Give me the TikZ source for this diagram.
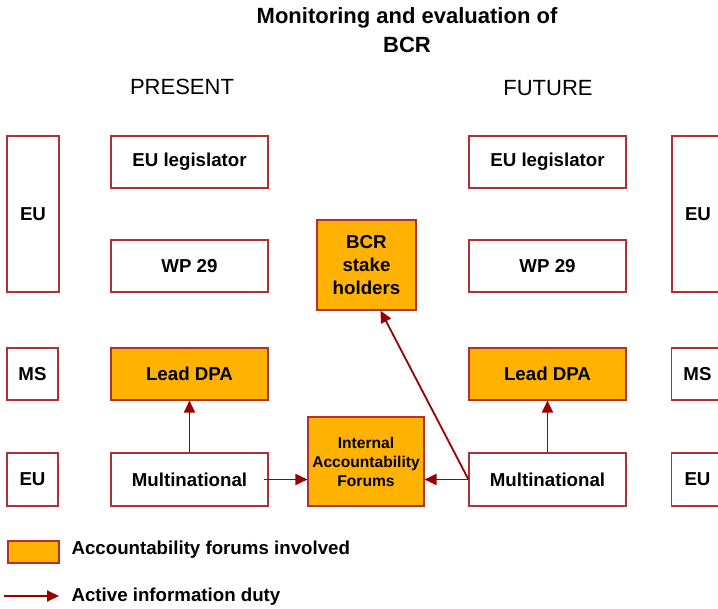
\documentclass[tikz,border=0pt]{standalone}
\usepackage{fontspec}
\setmainfont{Liberation Sans}
\usetikzlibrary{arrows.meta}
\definecolor{boxred}{RGB}{176,48,52}
\definecolor{duty}{RGB}{153,0,0}
\definecolor{forum}{RGB}{255,178,0}
\tikzset{
	box/.style={draw=boxred, line width=1.1pt, fill=white, inner sep=0pt, font=\fontsize{18.7}{22}\selectfont\bfseries, align=center},
	forumbox/.style={box, fill=forum},
	infoduty/.style={draw=duty, line width=1.8pt, -{Triangle[length=12pt,width=11pt]}},
}

\begin{document}
\begin{tikzpicture}[x=1pt, y=-1pt]
			%%%%% START %%%%%
			
			\useasboundingbox (0, 0) rectangle (718, 609);
			\clip (0, 0) rectangle (718, 609);
			
			\node[font=\fontsize{22}{26}\selectfont\bfseries] (title1) at (407, 18) {Monitoring and evaluation of};
			\node[font=\fontsize{22}{26}\selectfont\bfseries] (title2) at (407, 45) {BCR};
			
			\node[font=\fontsize{22}{26}\selectfont] (present) at (182, 87) {PRESENT};
			\node[font=\fontsize{22}{26}\selectfont] (future) at (548, 88) {FUTURE};
			
			% present
			\node[box, minimum width=52, minimum height=156] (eu1) at (33, 214) {EU};
			\node[box, minimum width=51, minimum height=52] (ms1) at (32.5, 374) {MS};
			\node[box, minimum width=51, minimum height=53] (eu2) at (32.5, 479.5) {EU};
			
			\node[box, minimum width=157, minimum height=52] (leg1) at (189.5, 162) {EU legislator};
			\node[box, minimum width=157, minimum height=52] (wp1) at (189.5, 266) {WP 29};
			\node[forumbox, minimum width=157, minimum height=52] (dpa1) at (189.5, 374) {Lead DPA};
			\node[box, minimum width=157, minimum height=53] (mnc1) at (189.5, 479.5) {Multinational};
			
			% middle
			\node[forumbox, minimum width=99, minimum height=90] (stake) at (366.5, 265) {BCR\\[1pt]stake\\[1pt]holders};
			\node[forumbox, minimum width=116, minimum height=89, font=\fontsize{15.6}{19}\selectfont\bfseries] (forums) at (366, 461.5) {Internal\\Accountability\\Forums};
			
			% future
			\node[box, minimum width=157, minimum height=52] (leg2) at (547.5, 162) {EU legislator};
			\node[box, minimum width=157, minimum height=52] (wp2) at (547.5, 266) {WP 29};
			\node[forumbox, minimum width=157, minimum height=52] (dpa2) at (547.5, 374) {Lead DPA};
			\node[box, minimum width=157, minimum height=53] (mnc2) at (547.5, 479.5) {Multinational};
			
			\node[box, minimum width=52, minimum height=156] (eu3) at (698, 214) {EU};
			\node[box, minimum width=52, minimum height=52] (ms2) at (697.5, 374) {MS};
			\node[box, minimum width=52, minimum height=53] (eu4) at (697.5, 479.5) {EU};
			
			% information duties
			\draw[infoduty] (mnc1.north) -- (dpa1.south);
			\draw[infoduty] (mnc2.north) -- (dpa2.south);
			\draw[infoduty] ([xshift=-5]mnc1.east) -- (mnc1.east -| forums.west);
			\draw[infoduty] (mnc2.west) -- (mnc2.west -| forums.east);
			\draw[infoduty] (mnc2.west) -- ([xshift=14]stake.south);
			
			% legend
			\node[forumbox, minimum width=51, minimum height=22] (keyforum) at (33.5, 552) {};
			\node[anchor=west, font=\fontsize{18.7}{22}\selectfont\bfseries] (keyforumtext) at (68, 550) {Accountability forums involved};
			\coordinate (keystart) at (4, 596);
			\coordinate (keyend) at (59, 596);
			\draw[infoduty] (keystart) -- (keyend);
			\node[anchor=west, font=\fontsize{18.7}{22}\selectfont\bfseries] (keydutytext) at (68, 597) {Active information duty};
			
			%%%%% END %%%%%
		\end{tikzpicture}
\end{document}
